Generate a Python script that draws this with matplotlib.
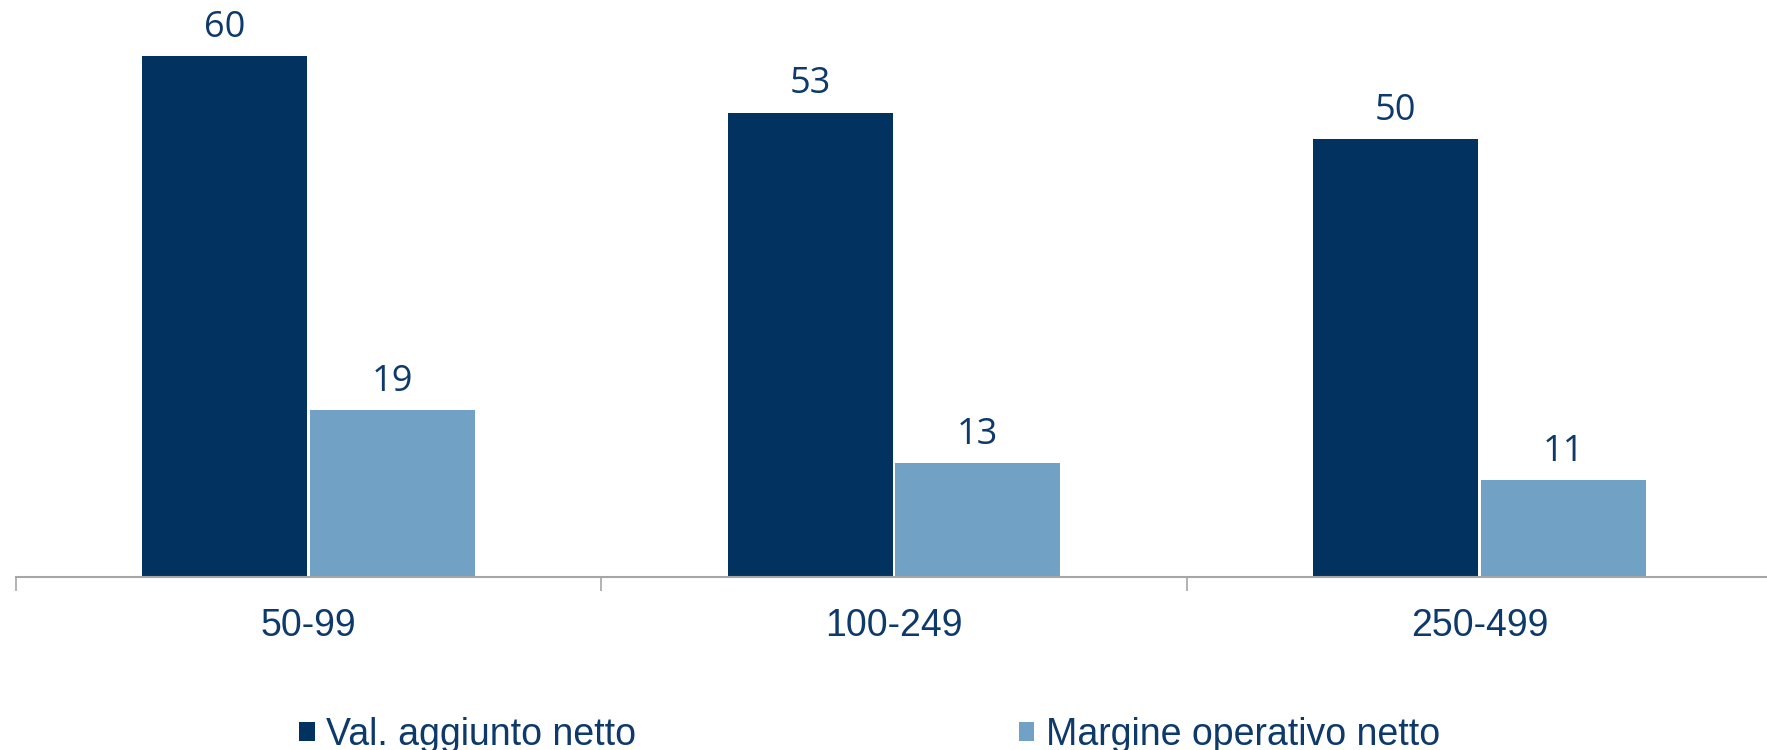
import matplotlib.pyplot as plt
import numpy as np

# dati
categorie = ['50-99', '100-249', '250-499']
val_aggiunto = [59.5, 53, 50]
margine_operativo = [19, 13, 11]
serie = ['Val. aggiunto netto', 'Margine operativo netto']

COL_SCURO = '#02325F'
COL_CHIARO = '#71A1C5'
COL_TESTO = '#0D3A6B'
FONT = ['Liberation Sans', 'DejaVu Sans']

fig = plt.figure(figsize=(17.67, 7.5), dpi=100)
ax = fig.add_axes([0.009, 0.231, 0.994, 0.769])

x = np.arange(len(categorie)) + 0.5
w = 0.282
b1 = ax.bar(x - w / 2 - 0.002, val_aggiunto, w, color=COL_SCURO, label=serie[0])
b2 = ax.bar(x + w / 2 + 0.002, margine_operativo, w, color=COL_CHIARO, label=serie[1])

for bars in (b1, b2):
    for r in bars:
        ax.annotate(f'{r.get_height():.0f}', (r.get_x() + r.get_width() / 2, r.get_height()),
                    xytext=(0, 7.5), textcoords='offset points', ha='center', va='bottom',
                    fontsize=26, color=COL_TESTO, family=['Open Sans', 'DejaVu Sans'])

ax.set_xlim(0, 3)
ax.set_ylim(0, 65.9)
ax.set_xticks([0, 1, 2, 3])
ax.set_xticklabels([])
ax.set_xticks(x, minor=True)
ax.set_xticklabels(categorie, minor=True, fontsize=27, color=COL_TESTO, family=FONT)
ax.tick_params(axis='x', which='major', length=10, width=1.2, color='#A6A6A6', direction='out')
ax.tick_params(axis='x', which='minor', length=0, pad=22.5)
ax.set_yticks([])
for s in ('top', 'right', 'left'):
    ax.spines[s].set_visible(False)
ax.spines['bottom'].set_color('#A6A6A6')
ax.spines['bottom'].set_linewidth(1.5)

leg = fig.legend(handles=[b1, b2], labels=serie, loc='center', bbox_to_anchor=(0.492, 0.020),
                 ncol=2, frameon=False, handlelength=0.42, handleheight=0.42, handletextpad=0.3,
                 columnspacing=10.2, prop={'family': FONT, 'size': 27})
for t in leg.get_texts():
    t.set_color(COL_TESTO)

fig.savefig('out.png', dpi=100)
